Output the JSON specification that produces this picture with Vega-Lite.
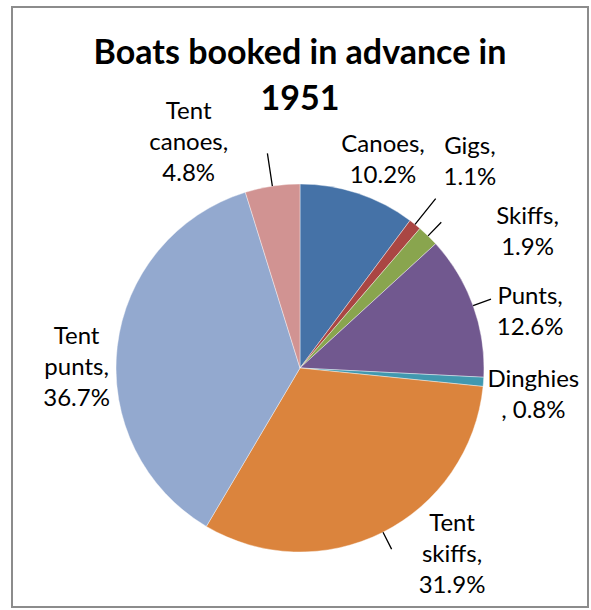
{
  "$schema": "https://vega.github.io/schema/vega-lite/v6.json",
  "width": 576,
  "height": 600,
  "autosize": "none",
  "padding": {"left": 12, "top": 7, "right": 3, "bottom": 3},
  "background": "white",
  "config": {"view": {"stroke": "#8c8c8c", "strokeWidth": 2}, "text": {"font": "Lato"}},
  "title": {
    "text": ["Boats booked in advance in", "1951"],
    "font": "Lato",
    "fontSize": 34,
    "fontWeight": "bold",
    "color": "#000000",
    "anchor": "middle",
    "frame": "group",
    "baseline": "top",
    "lineHeight": 46,
    "offset": -110
  },
  "data": {
    "values": [
      {"cat": "Canoes", "value": 10.2, "label": "Canoes,\n10.2%"},
      {"cat": "Gigs", "value": 1.1, "label": "Gigs,\n1.1%"},
      {"cat": "Skiffs", "value": 1.9, "label": "Skiffs,\n1.9%"},
      {"cat": "Punts", "value": 12.6, "label": "Punts,\n12.6%"},
      {"cat": "Dinghies", "value": 0.8, "label": "Dinghies\n, 0.8%"},
      {"cat": "Tent skiffs", "value": 31.9, "label": "Tent\nskiffs,\n31.9%"},
      {"cat": "Tent punts", "value": 36.7, "label": "Tent\npunts,\n36.7%"},
      {"cat": "Tent canoes", "value": 4.8, "label": "Tent\ncanoes,\n4.8%"}
    ]
  },
  "transform": [
    {"window": [{"op": "row_number", "as": "idx"}]},
    {"stack": "value", "groupby": [], "sort": [{"field": "idx", "order": "ascending"}], "as": ["v0", "v1"]},
    {"calculate": "(datum.v0 + datum.v1) / 2", "as": "vmid"}
  ],
  "encoding": {
    "y": {"datum": 361, "type": "quantitative", "scale": {"domain": [0, 600], "reverse": true, "nice": false, "zero": false}, "axis": null}
  },
  "layer": [
    {
      "mark": {"type": "arc", "outerRadius": 184, "stroke": "#ffffff", "strokeWidth": 0.4},
      "encoding": {
        "theta": {"field": "v0", "type": "quantitative", "stack": null, "scale": {"domain": [0, 100]}},
        "theta2": {"field": "v1"},
        "color": {
          "field": "cat",
          "type": "nominal",
          "scale": {
            "domain": ["Canoes", "Gigs", "Skiffs", "Punts", "Dinghies", "Tent skiffs", "Tent punts", "Tent canoes"],
            "range": ["#4572A7", "#AA4643", "#89A54E", "#71588F", "#4198AF", "#DB843D", "#93A9CF", "#D19392"]
          },
          "legend": null
        }
      }
    },
    {
      "transform": [{"filter": "indexof(['Tent canoes','Gigs'], datum.cat) >= 0"}],
      "mark": {"type": "arc", "innerRadius": 184, "outerRadius": 217, "stroke": "#000000", "strokeWidth": 1.3, "fill": null},
      "encoding": {
        "theta": {"field": "vmid", "type": "quantitative", "stack": null},
        "theta2": {"field": "vmid"}
      }
    },
    {
      "transform": [{"filter": "indexof(['Skiffs','Punts','Tent skiffs'], datum.cat) >= 0"}],
      "mark": {"type": "arc", "innerRadius": 184, "outerRadius": 203, "stroke": "#000000", "strokeWidth": 1.3, "fill": null},
      "encoding": {
        "theta": {"field": "vmid", "type": "quantitative", "stack": null},
        "theta2": {"field": "vmid"}
      }
    },
    {"transform": [{"filter": "datum.cat === 'Canoes'"}], "mark": {"type": "text", "radius": 235, "dx": 9, "dy": 0, "fontSize": 24, "lineBreak": "\n", "lineHeight": 31}, "encoding": {"theta": {"field": "vmid", "type": "quantitative", "stack": null}, "text": {"field": "label"}}},
    {"transform": [{"filter": "datum.cat === 'Gigs'"}], "mark": {"type": "text", "radius": 235, "dx": 23, "dy": -38, "fontSize": 24, "lineBreak": "\n", "lineHeight": 31}, "encoding": {"theta": {"field": "vmid", "type": "quantitative", "stack": null}, "text": {"field": "label"}}},
    {"transform": [{"filter": "datum.cat === 'Skiffs'"}], "mark": {"type": "text", "radius": 235, "dx": 64, "dy": 18, "fontSize": 24, "lineBreak": "\n", "lineHeight": 31}, "encoding": {"theta": {"field": "vmid", "type": "quantitative", "stack": null}, "text": {"field": "label"}}},
    {"transform": [{"filter": "datum.cat === 'Punts'"}], "mark": {"type": "text", "radius": 235, "dx": 9, "dy": 9, "fontSize": 24, "lineBreak": "\n", "lineHeight": 31}, "encoding": {"theta": {"field": "vmid", "type": "quantitative", "stack": null}, "text": {"field": "label"}}},
    {"transform": [{"filter": "datum.cat === 'Dinghies'"}], "mark": {"type": "text", "radius": 235, "dx": -1, "dy": -6, "fontSize": 24, "lineBreak": "\n", "lineHeight": 31}, "encoding": {"theta": {"field": "vmid", "type": "quantitative", "stack": null}, "text": {"field": "label"}}},
    {"transform": [{"filter": "datum.cat === 'Tent skiffs'"}], "mark": {"type": "text", "radius": 235, "dx": 46, "dy": -54, "fontSize": 24, "lineBreak": "\n", "lineHeight": 31}, "encoding": {"theta": {"field": "vmid", "type": "quantitative", "stack": null}, "text": {"field": "label"}}},
    {"transform": [{"filter": "datum.cat === 'Tent punts'"}], "mark": {"type": "text", "radius": 235, "dx": 10, "dy": -4, "fontSize": 24, "lineBreak": "\n", "lineHeight": 31}, "encoding": {"theta": {"field": "vmid", "type": "quantitative", "stack": null}, "text": {"field": "label"}}},
    {"transform": [{"filter": "datum.cat === 'Tent canoes'"}], "mark": {"type": "text", "radius": 235, "dx": -76, "dy": -24, "fontSize": 24, "lineBreak": "\n", "lineHeight": 31}, "encoding": {"theta": {"field": "vmid", "type": "quantitative", "stack": null}, "text": {"field": "label"}}}
  ]
}
